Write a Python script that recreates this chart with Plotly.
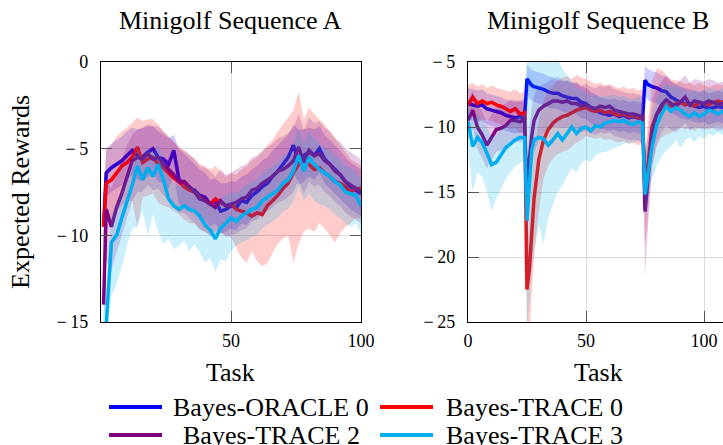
import plotly.graph_objects as go

# ---------------- data ----------------
TASKS_A = [1] + list(range(2, 101, 2))

ORACLE0_A = [-9.5, -6.4, -6.1, -5.9, -5.7, -5.4, -5.1, -5.4, -5.5, -5.2,
             -5.0, -5.5, -5.6, -5.9, -5.1, -6.8, -7.0, -7.3, -7.4, -7.7,
             -7.8, -8.2, -8.0, -8.6, -8.5, -8.3, -8.4, -8.0, -8.1, -7.7,
             -7.5, -7.2, -7.0, -6.6, -6.3, -5.9, -5.5, -4.8, -5.7, -5.4,
             -5.2, -5.4, -5.0, -5.6, -5.9, -6.2, -6.5, -6.9, -7.2, -7.4,
             -7.6]
ORACLE0_A_HI = [-8.0, -5.0, -4.7, -4.5, -4.3, -4.0, -3.8, -3.9, -3.8, -3.7,
                -3.7, -4.0, -4.2, -4.4, -4.2, -5.0, -5.3, -5.6, -5.9, -6.2,
                -6.4, -6.8, -6.7, -7.0, -7.0, -6.9, -6.9, -6.6, -6.5, -6.2,
                -6.0, -5.7, -5.5, -5.1, -4.8, -4.5, -4.2, -3.6, -3.9, -3.9,
                -3.8, -3.9, -3.7, -4.2, -4.5, -4.8, -5.1, -5.5, -5.8, -6.0,
                -6.2]
ORACLE0_A_LO = [-11.0, -7.8, -7.5, -7.3, -7.1, -6.8, -6.5, -6.8, -6.9, -6.6,
                -6.4, -6.9, -7.0, -7.3, -6.6, -8.2, -8.4, -8.6, -8.7, -9.0,
                -9.1, -9.5, -9.3, -9.9, -9.8, -9.6, -9.7, -9.3, -9.4, -9.0,
                -8.9, -8.6, -8.4, -8.0, -7.7, -7.3, -7.0, -6.3, -7.1, -6.9,
                -6.6, -6.8, -6.4, -7.0, -7.3, -7.6, -7.9, -8.2, -8.5, -8.7,
                -8.9]

TRACE0_A = [-9.5, -7.0, -6.8, -6.4, -6.0, -5.8, -5.5, -4.9, -5.8, -5.6,
            -5.5, -5.9, -6.1, -6.4, -6.7, -6.9, -7.2, -7.4, -7.5, -7.8,
            -8.0, -8.2, -7.9, -8.1, -8.3, -8.2, -8.5, -8.6, -8.7, -8.9,
            -8.7, -8.8, -8.3, -8.0, -7.7, -7.3, -7.0, -6.4, -5.9, -5.7,
            -5.9, -6.2, -6.1, -6.4, -6.6, -6.9, -7.0, -7.2, -7.5, -7.3,
            -7.3]
TRACE0_A_HI = [-7.5, -5.0, -4.8, -4.3, -4.0, -3.8, -3.5, -3.2, -3.4, -3.3,
               -3.3, -3.6, -4.0, -4.3, -4.6, -4.9, -5.1, -5.4, -5.6, -5.9,
               -6.0, -6.2, -6.0, -6.3, -6.6, -6.4, -6.5, -6.2, -6.0, -5.7,
               -5.5, -5.2, -4.8, -4.5, -4.0, -3.6, -3.2, -2.8, -1.7, -3.3,
               -2.6, -3.0, -3.3, -3.6, -4.0, -4.4, -4.8, -5.2, -5.6, -5.8,
               -6.0]
TRACE0_A_LO = [-11.5, -9.2, -9.0, -8.6, -8.3, -8.0, -8.0, -9.5, -7.8, -7.7,
               -7.6, -8.1, -8.3, -8.4, -8.6, -8.8, -9.1, -9.3, -9.3, -9.6,
               -9.8, -10.0, -9.7, -9.9, -10.0, -10.1, -10.7, -11.3, -11.6, -10.9,
               -11.5, -11.8, -11.6, -11.0, -10.5, -10.2, -10.0, -11.6, -10.5, -9.8,
               -9.6, -9.8, -9.3, -9.6, -10.0, -10.4, -9.9, -9.5, -9.3, -9.0,
               -9.0]

TRACE2_A = [-14.0, -8.5, -9.5, -8.4, -7.6, -6.6, -5.7, -5.5, -5.6, -5.3,
            -5.6, -5.5, -5.9, -6.2, -6.5, -6.9, -6.9, -7.2, -7.5, -7.9,
            -8.0, -8.2, -8.4, -8.0, -8.3, -8.2, -8.1, -7.9, -7.8, -7.4,
            -7.3, -7.0, -6.8, -6.6, -6.3, -6.2, -6.0, -5.7, -4.9, -5.8,
            -5.1, -5.4, -5.3, -5.7, -5.9, -6.3, -6.5, -6.9, -7.1, -7.3,
            -7.5]
TRACE2_A_HI = [-12.0, -6.8, -7.3, -6.4, -5.6, -4.8, -4.2, -3.9, -3.8, -3.6,
               -3.7, -3.7, -4.0, -4.3, -4.6, -5.0, -5.1, -5.3, -5.6, -6.0,
               -6.1, -6.3, -6.6, -6.2, -6.5, -6.4, -6.2, -6.0, -5.9, -5.5,
               -5.4, -5.1, -4.9, -4.7, -4.4, -4.3, -4.1, -3.8, -3.0, -3.9,
               -3.2, -3.5, -3.4, -3.8, -4.0, -4.4, -4.6, -5.0, -5.2, -5.4,
               -5.6]
TRACE2_A_LO = [-15.5, -11.5, -12.0, -11.0, -10.0, -9.0, -8.0, -7.5, -7.5, -7.1,
               -7.4, -7.3, -7.7, -8.0, -8.3, -8.7, -8.7, -9.0, -9.3, -9.7,
               -9.8, -10.0, -10.2, -9.8, -10.1, -10.0, -9.9, -9.7, -9.6, -9.2,
               -9.1, -8.8, -8.6, -8.4, -8.1, -8.0, -7.8, -7.5, -6.8, -7.6,
               -6.9, -7.2, -7.1, -7.5, -7.7, -8.1, -8.3, -8.7, -8.9, -9.1,
               -9.3]

TRACE3_A = [-15.5, -15.2, -10.4, -10.0, -9.0, -8.1, -7.1, -6.0, -6.8, -6.1,
            -6.6, -5.9, -6.8, -7.9, -8.3, -8.5, -8.3, -8.5, -8.6, -8.9,
            -9.4, -9.7, -10.2, -9.6, -9.3, -9.0, -9.2, -8.9, -8.7, -8.5,
            -8.4, -8.0, -7.8, -7.6, -7.4, -7.0, -6.8, -6.3, -5.4, -6.3,
            -5.5, -5.9, -6.2, -6.4, -6.6, -6.9, -7.1, -7.5, -7.6, -7.7,
            -8.3]
TRACE3_A_HI = [-14.5, -13.0, -8.8, -8.2, -7.4, -6.5, -5.6, -4.8, -5.5, -4.9,
               -5.3, -4.8, -5.6, -6.6, -7.0, -7.2, -7.0, -7.2, -7.3, -7.6,
               -8.0, -8.2, -8.5, -8.0, -7.7, -7.5, -7.6, -7.3, -7.1, -6.9,
               -6.8, -6.4, -6.2, -6.0, -5.8, -5.4, -5.2, -4.7, -3.8, -4.7,
               -4.0, -4.4, -4.7, -4.9, -5.1, -5.4, -5.6, -6.0, -6.1, -6.3,
               -6.9]
TRACE3_A_LO = [-16.0, -16.0, -13.5, -12.8, -11.8, -10.6, -9.6, -9.5, -8.6, -10.0,
               -8.8, -9.8, -10.5, -10.2, -10.8, -10.6, -10.3, -10.9, -10.5, -11.0,
               -11.6, -11.3, -12.1, -11.4, -11.5, -10.9, -10.6, -10.4, -10.3, -10.1,
               -10.0, -9.6, -9.4, -9.2, -9.0, -8.6, -8.5, -8.0, -7.2, -8.0,
               -7.6, -8.0, -8.2, -8.3, -8.5, -8.8, -9.0, -9.3, -9.5, -9.3,
               -9.9]

TASKS_B = ([0, 2, 4, 6, 8, 10, 12, 14, 16, 18,
            20, 22, 24, 25, 26, 27, 28, 30, 32, 34,
            36, 38, 40, 42, 44, 46, 48, 50, 52, 54,
            56, 58, 60, 62, 64, 66, 68, 70, 72, 74,
            75, 76, 77, 78, 80, 82, 84, 86, 88, 90,
            92, 94, 96, 98, 100, 102, 104, 106, 108, 110])

ORACLE0_B = [-8.2, -8.3, -8.4, -8.3, -8.6, -8.7, -8.8, -8.9, -9.1, -9.2,
             -9.3, -9.2, -9.3, -6.3, -6.6, -6.8, -6.9, -7.0, -7.1, -7.3,
             -7.4, -7.4, -7.6, -7.7, -7.8, -7.8, -8.1, -8.2, -8.5, -8.7,
             -8.9, -9.0, -9.1, -9.0, -9.2, -9.1, -9.3, -9.2, -9.3, -9.3,
             -6.4, -6.7, -6.8, -6.9, -7.0, -7.2, -7.3, -7.7, -7.9, -8.1,
             -8.2, -8.3, -8.4, -8.5, -8.4, -8.6, -8.5, -8.4, -8.5, -8.4]
ORACLE0_B_HI = [-7.0, -7.1, -7.2, -7.1, -7.4, -7.5, -7.6, -7.7, -7.9, -8.0,
                -8.1, -8.0, -8.1, -5.2, -5.4, -5.6, -5.7, -5.8, -5.9, -6.1,
                -6.2, -6.2, -6.4, -6.5, -6.6, -6.6, -6.9, -7.0, -7.3, -7.5,
                -7.7, -7.8, -7.9, -7.8, -8.0, -7.9, -8.1, -8.0, -8.1, -8.1,
                -5.3, -5.5, -5.6, -5.7, -5.8, -6.0, -6.1, -6.5, -6.7, -6.9,
                -7.0, -7.1, -7.2, -7.3, -7.2, -7.4, -7.3, -7.2, -7.3, -7.2]
ORACLE0_B_LO = [-9.4, -9.5, -9.6, -9.5, -9.8, -9.9, -10.0, -10.1, -10.3, -10.4,
                -10.5, -10.4, -10.5, -7.5, -7.8, -8.0, -8.1, -8.2, -8.3, -8.5,
                -8.6, -8.6, -8.8, -8.9, -9.0, -9.0, -9.3, -9.4, -9.7, -9.9,
                -10.1, -10.2, -10.3, -10.2, -10.4, -10.3, -10.5, -10.4, -10.5, -10.5,
                -7.5, -7.9, -8.0, -8.1, -8.2, -8.4, -8.5, -8.9, -9.1, -9.3,
                -9.4, -9.5, -9.6, -9.7, -9.6, -9.8, -9.7, -9.6, -9.7, -9.6]

TRACE0_B = [-8.3, -7.7, -8.2, -8.0, -8.2, -8.1, -8.3, -8.4, -8.6, -8.8,
            -8.6, -9.0, -8.9, -22.5, -21.0, -18.0, -15.5, -12.5, -11.0, -10.2,
            -9.7, -9.4, -9.2, -9.1, -8.9, -8.7, -8.6, -8.5, -8.7, -8.8,
            -8.7, -8.9, -8.8, -9.0, -9.1, -9.0, -9.2, -9.1, -9.3, -9.2,
            -15.0, -13.5, -11.5, -10.0, -9.0, -8.6, -8.3, -8.4, -8.2, -8.1,
            -8.3, -8.2, -8.4, -8.1, -8.2, -8.3, -8.1, -8.0, -8.1, -8.0]
TRACE0_B_HI = [-6.8, -6.6, -6.9, -6.7, -7.0, -6.8, -7.0, -7.1, -7.2, -7.3,
               -7.1, -7.4, -7.3, -19.5, -17.0, -14.0, -12.0, -9.5, -8.0, -7.2,
               -6.8, -6.4, -6.2, -6.1, -6.3, -6.0, -6.2, -6.3, -6.5, -6.7,
               -6.6, -6.8, -6.7, -6.9, -7.0, -6.9, -7.1, -7.0, -7.2, -7.1,
               -12.0, -10.0, -8.0, -6.5, -5.5, -5.6, -6.0, -6.3, -6.4, -6.5,
               -6.7, -6.6, -6.8, -6.6, -6.8, -6.9, -6.8, -6.7, -6.8, -6.7]
TRACE0_B_LO = [-9.8, -9.0, -9.6, -9.4, -9.5, -9.5, -9.7, -9.8, -10.0, -10.2,
               -10.1, -10.5, -10.4, -26.0, -26.0, -23.0, -20.0, -16.5, -14.0, -13.0,
               -12.4, -12.1, -11.9, -11.8, -11.5, -11.2, -11.0, -10.7, -10.8, -10.9,
               -10.8, -11.0, -10.9, -11.1, -11.2, -11.1, -11.3, -11.2, -11.4, -11.3,
               -19.0, -17.5, -15.0, -13.0, -11.5, -10.8, -10.6, -10.5, -10.2, -10.0,
               -10.2, -10.1, -10.3, -10.0, -10.1, -10.2, -10.0, -9.9, -10.0, -9.9]

TRACE2_B = [-9.5, -8.7, -10.0, -10.6, -11.4, -10.8, -10.2, -10.1, -9.9, -9.5,
            -9.5, -9.6, -9.4, -15.6, -12.5, -10.7, -9.5, -8.7, -8.4, -8.2,
            -8.0, -8.0, -8.1, -8.0, -8.2, -8.2, -8.4, -8.3, -8.5, -8.6,
            -8.4, -8.5, -8.4, -8.7, -8.8, -8.9, -9.0, -9.0, -9.1, -9.2,
            -16.5, -14.5, -12.5, -10.5, -9.0, -8.3, -7.9, -8.2, -8.4, -8.1,
            -7.7, -8.3, -8.0, -8.1, -8.2, -8.0, -8.1, -8.3, -8.2, -8.2]
TRACE2_B_HI = [-8.0, -7.2, -8.3, -8.8, -9.6, -9.0, -8.5, -8.4, -8.2, -7.9,
               -7.9, -8.0, -7.8, -13.0, -10.0, -8.5, -7.6, -6.9, -6.7, -6.5,
               -6.3, -6.4, -6.5, -6.4, -6.6, -6.6, -6.8, -6.7, -6.9, -7.0,
               -6.8, -6.9, -6.8, -7.1, -7.2, -7.3, -7.4, -7.4, -7.5, -7.6,
               -12.0, -11.0, -9.5, -8.0, -7.0, -6.5, -6.1, -6.5, -6.7, -6.4,
               -6.0, -6.6, -6.3, -6.4, -6.5, -6.3, -6.4, -6.6, -6.5, -6.5]
TRACE2_B_LO = [-11.0, -10.2, -11.7, -12.4, -13.2, -12.6, -11.9, -11.8, -11.6, -11.1,
               -11.1, -11.2, -11.0, -19.0, -16.0, -13.5, -12.0, -11.0, -10.5, -10.2,
               -10.0, -10.0, -10.1, -10.0, -10.2, -10.2, -10.4, -10.3, -10.5, -10.6,
               -10.4, -10.5, -10.4, -10.7, -10.8, -10.9, -11.0, -11.0, -11.1, -11.2,
               -21.5, -18.5, -15.5, -13.0, -11.2, -10.4, -9.9, -10.2, -10.4, -10.1,
               -9.7, -10.3, -10.0, -10.1, -10.2, -10.0, -10.1, -10.3, -10.2, -10.2]

TRACE3_B = [-9.6, -11.5, -10.8, -11.2, -12.0, -12.9, -12.7, -12.1, -11.6, -11.3,
            -11.0, -10.8, -10.8, -17.2, -14.0, -11.8, -11.0, -10.8, -10.9, -11.4,
            -11.0, -10.5, -11.0, -10.5, -10.0, -10.5, -10.1, -10.0, -10.3, -9.9,
            -10.0, -9.7, -9.6, -9.5, -9.6, -9.5, -9.7, -9.8, -9.6, -9.7,
            -15.2, -14.0, -13.0, -11.5, -9.8, -9.0, -8.4, -8.8, -8.5, -8.7,
            -9.0, -9.2, -8.9, -9.2, -9.0, -8.7, -8.8, -9.0, -8.8, -8.9]
TRACE3_B_HI = [-8.0, -9.5, -9.0, -9.4, -10.0, -10.8, -10.6, -10.1, -9.8, -9.5,
               -9.3, -9.1, -9.1, -4.5, -4.5, -4.5, -4.6, -4.5, -4.7, -4.6,
               -4.5, -4.8, -5.5, -6.0, -6.5, -7.0, -7.2, -7.4, -7.6, -7.5,
               -7.7, -7.6, -7.6, -7.5, -7.7, -7.6, -7.8, -7.9, -7.7, -7.8,
               -12.5, -11.5, -10.5, -9.0, -7.8, -7.0, -6.6, -7.0, -6.8, -7.0,
               -7.2, -7.4, -7.1, -7.4, -7.2, -7.0, -7.1, -7.2, -7.0, -7.1]
TRACE3_B_LO = [-12.0, -15.0, -13.5, -13.8, -15.0, -16.5, -15.5, -14.8, -14.0, -13.5,
               -13.0, -12.8, -12.5, -25.5, -23.5, -21.0, -19.5, -17.5, -19.0, -17.0,
               -16.0, -15.0, -14.5, -13.8, -13.2, -13.5, -12.8, -12.5, -12.7, -12.2,
               -12.0, -11.9, -11.8, -11.6, -11.5, -11.3, -11.2, -11.3, -11.0, -11.2,
               -17.0, -16.0, -15.0, -14.0, -13.0, -12.3, -11.8, -11.5, -11.0, -11.6,
               -11.0, -10.8, -11.2, -10.7, -10.9, -10.5, -10.7, -10.4, -10.6, -10.5]

SERIES_NAMES = ["Bayes-ORACLE 0", "Bayes-TRACE 0", "Bayes-TRACE 2", "Bayes-TRACE 3"]
TITLES = ["Minigolf Sequence A", "Minigolf Sequence B"]
X_TITLE = "Task"
Y_TITLE = "Expected Rewards"
XTICKS_A = [50, 100]
YTICKS_A = [0, -5, -10, -15]
XTICKS_B = [0, 50, 100, 150]
YTICKS_B = [-5, -10, -15, -20, -25]

# ---------------- style ----------------
W, H = 723, 445
FONT = "Liberation Serif"
COLORS = ["#0000FF", "#FF0000", "#800080", "#00AEEF"]
FILLS = ["rgba(0,0,255,0.2)", "rgba(255,0,0,0.2)", "rgba(128,0,128,0.2)", "rgba(0,174,239,0.2)"]
LW = 3.5


def px(x):
    return x / W


def py(y):
    return 1 - y / H


def tick_txt(v):
    return str(v) if v >= 0 else "\u2212\u2009" + str(-v)


fig = go.Figure()

panels = [
    ("x", "y", TASKS_A, [(ORACLE0_A, ORACLE0_A_HI, ORACLE0_A_LO),
                         (TRACE0_A, TRACE0_A_HI, TRACE0_A_LO),
                         (TRACE2_A, TRACE2_A_HI, TRACE2_A_LO),
                         (TRACE3_A, TRACE3_A_HI, TRACE3_A_LO)]),
    ("x2", "y2", TASKS_B, [(ORACLE0_B, ORACLE0_B_HI, ORACLE0_B_LO),
                           (TRACE0_B, TRACE0_B_HI, TRACE0_B_LO),
                           (TRACE2_B, TRACE2_B_HI, TRACE2_B_LO),
                           (TRACE3_B, TRACE3_B_HI, TRACE3_B_LO)]),
]

for xa, ya, xs, data in panels:
    for i, (mean, hi, lo) in enumerate(data):
        fig.add_trace(go.Scatter(
            x=list(xs) + list(xs)[::-1], y=list(hi) + list(lo)[::-1],
            fill="toself", fillcolor=FILLS[i], line=dict(width=0, color="rgba(0,0,0,0)"),
            mode="lines", hoverinfo="skip", showlegend=False, xaxis=xa, yaxis=ya))
        fig.add_trace(go.Scatter(
            x=xs, y=mean, mode="lines", line=dict(color=COLORS[i], width=LW),
            name=SERIES_NAMES[i], showlegend=False, hoverinfo="skip", xaxis=xa, yaxis=ya))

ydom = [py(322), py(62)]
common = dict(showline=True, linecolor="black", linewidth=1.2, showgrid=True,
              gridcolor="#dadada", gridwidth=1, zeroline=False, ticks="inside",
              ticklen=11, tickcolor="#555555", tickwidth=1,
              tickfont=dict(family=FONT, size=18, color="black"))

fig.update_layout(
    width=W, height=H, margin=dict(l=0, r=0, t=0, b=0, autoexpand=False),
    paper_bgcolor="white", plot_bgcolor="white", showlegend=False, hovermode=False,
    xaxis=dict(domain=[px(101), px(361)], range=[0, 100], tickvals=XTICKS_A,
               ticktext=[tick_txt(v) for v in XTICKS_A], mirror="ticks",
               anchor="y", ticklabelstandoff=2, **common),
    yaxis=dict(domain=ydom, range=[-15, 0], tickvals=YTICKS_A,
               ticktext=[tick_txt(v) for v in YTICKS_A], mirror="ticks",
               anchor="x", ticklabelstandoff=8, **common),
    xaxis2=dict(domain=[px(468), 1.0], range=[0, (723 - 468) / 2.36], tickvals=XTICKS_B,
                ticktext=[tick_txt(v) for v in XTICKS_B], mirror="ticks",
                anchor="y2", ticklabelstandoff=2, **common),
    yaxis2=dict(domain=ydom, range=[-25, -5], tickvals=YTICKS_B,
                ticktext=[tick_txt(v) for v in YTICKS_B], mirror=False,
                anchor="x2", ticklabelstandoff=8, **common),
)

ann = []
big = dict(family=FONT, size=26, color="black")
ann.append(dict(x=px(231), y=py(20), text=TITLES[0]))
ann.append(dict(x=px(597.5), y=py(20), text=TITLES[1]))
ann.append(dict(x=px(231), y=py(372), text=X_TITLE))
ann.append(dict(x=px(598), y=py(372), text=X_TITLE))
ann.append(dict(x=px(20), y=py(192), text=Y_TITLE, textangle=-90))
# legend
leg_pos = [(271, 407), (534.5, 407), (271, 435), (534.5, 435)]
line_x = [(109, 162), (380, 433), (109, 162), (380, 433)]
shapes = []
for i, name in enumerate(SERIES_NAMES):
    cx, cy = leg_pos[i]
    ann.append(dict(x=px(cx), y=py(cy), text=name))
    x0, x1 = line_x[i]
    shapes.append(dict(type="line", xref="paper", yref="paper", x0=px(x0), x1=px(x1),
                       y0=py(cy), y1=py(cy), line=dict(color=COLORS[i], width=4)))

for a in ann:
    a.update(xref="paper", yref="paper", showarrow=False, xanchor="center",
             yanchor="middle", font=big)
fig.update_layout(annotations=ann, shapes=shapes)

PAGE_FIX = ("document.documentElement.style.margin='0';document.body.style.margin='0';"
            "document.body.style.padding='0';document.body.style.overflow='hidden';"
            "var g=document.getElementsByClassName('plotly-graph-div')[0];"
            "g.style.position='absolute';g.style.left='0px';g.style.top='0px';")

fig.write_html("out.html", post_script=PAGE_FIX, config={"displayModeBar": False})
